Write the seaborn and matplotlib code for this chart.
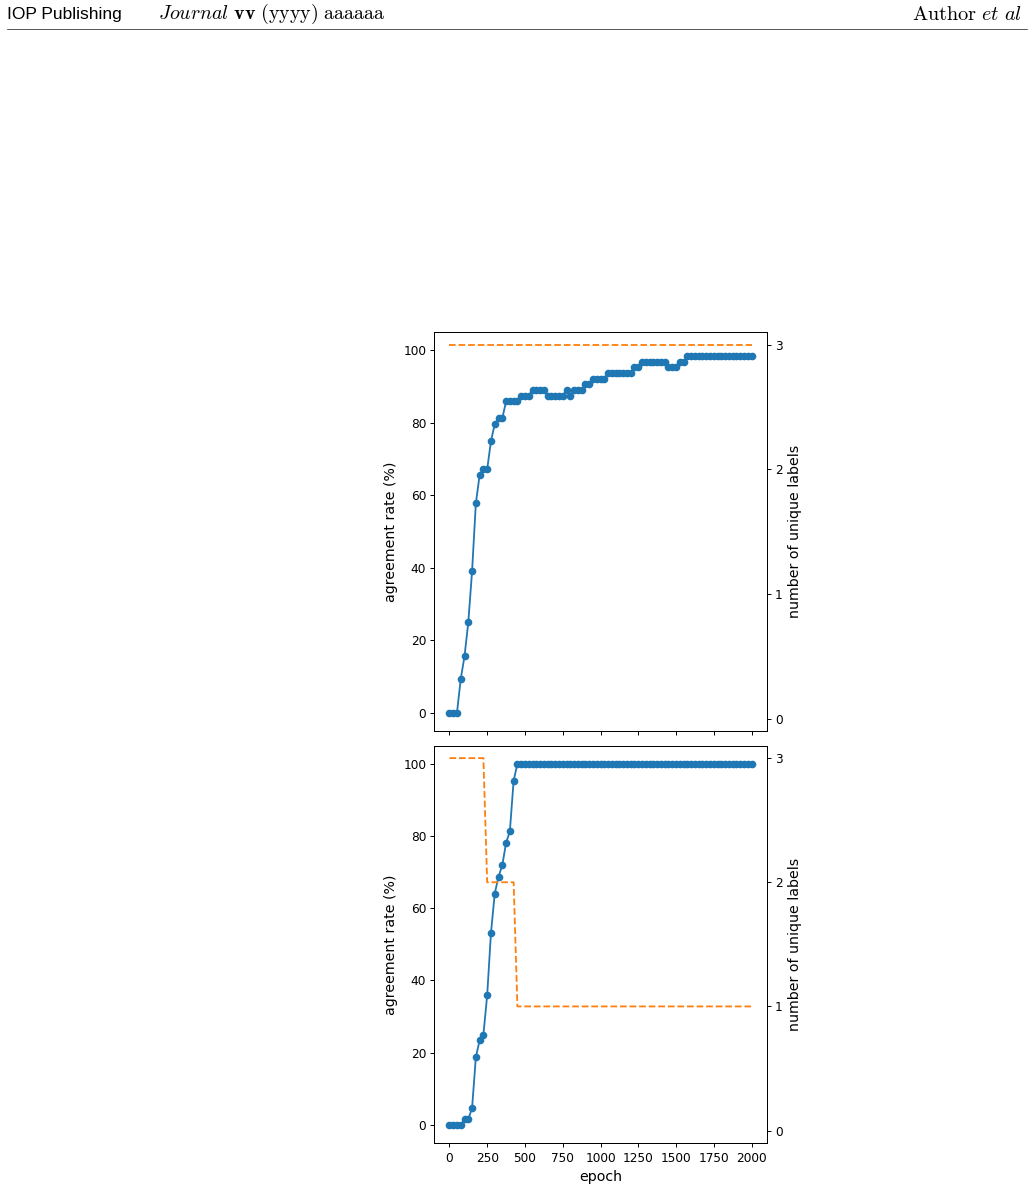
import numpy as np
import pandas as pd
import matplotlib
matplotlib.use("Agg")
import matplotlib.pyplot as plt
import seaborn as sns

# ---------------- data ----------------
epochs = list(range(0, 2001, 25))

agree_top = [
    0, 0, 0, 9.375, 15.625, 25, 39.0625, 57.8125, 65.625, 67.1875,
    67.1875, 75, 79.6875, 81.25, 81.25, 85.9375, 85.9375, 85.9375, 85.9375, 87.5,
    87.5, 87.5, 89.0625, 89.0625, 89.0625, 89.0625, 87.5, 87.5, 87.5, 87.5,
    87.5, 89.0625, 87.5, 89.0625, 89.0625, 89.0625, 90.625, 90.625, 92.1875, 92.1875,
    92.1875, 92.1875, 93.75, 93.75, 93.75, 93.75, 93.75, 93.75, 93.75, 95.3125,
    95.3125, 96.875, 96.875, 96.875, 96.875, 96.875, 96.875, 96.875, 95.3125, 95.3125,
    95.3125, 96.875, 96.875, 98.4375, 98.4375, 98.4375, 98.4375, 98.4375, 98.4375, 98.4375,
    98.4375, 98.4375, 98.4375, 98.4375, 98.4375, 98.4375, 98.4375, 98.4375, 98.4375, 98.4375,
    98.4375,
]
labels_top = [3] * 81

agree_bot = [
    0, 0, 0, 0, 1.5625, 1.5625, 4.6875, 18.75, 23.4375, 25,
    35.9375, 53.125, 64.0625, 68.75, 71.875, 78.125, 81.25, 95.3125,
] + [100] * 63
labels_bot = [3] * 10 + [2] * 8 + [1] * 63

# ---------------- style ----------------
sns.set_style("ticks")
plt.rcParams.update({
    "font.family": ["DejaVu Sans"],
    "text.color": "black",
    "axes.labelcolor": "black",
    "xtick.color": "black",
    "ytick.color": "black",
    "axes.edgecolor": "black",
    "axes.linewidth": 0.7,
    "xtick.major.width": 0.7,
    "ytick.major.width": 0.7,
    "xtick.major.size": 3.2,
    "ytick.major.size": 3.2,
    "xtick.major.pad": 3.0,
    "ytick.major.pad": 2.6,
    "xtick.labelsize": 8.7,
    "ytick.labelsize": 8.7,
    "axes.labelsize": 10.2,
    "xtick.direction": "out",
    "ytick.direction": "out",
})

BLUE = "#1f77b4"
ORANGE = "#ff7f0e"

fig = plt.figure(figsize=(10.34, 11.87), dpi=100)

# page header
fig.text(7 / 1034, 1 - 14 / 1187, "IOP Publishing", fontsize=12.5,
         family=["Liberation Sans", "DejaVu Sans"], va="center", ha="left")
fig.text(158 / 1034, 1 - 14 / 1187,
         r"$\mathit{Journal}\ \mathbf{vv}\ \mathrm{(yyyy)\ aaaaaa}$",
         fontsize=14.4, math_fontfamily="cm", va="center", ha="left")
fig.text(1022 / 1034, 1 - 14 / 1187, r"$\mathrm{Author}\ \mathit{et\ al}$",
         fontsize=14.6, math_fontfamily="cm", va="center", ha="right")
fig.add_artist(plt.Line2D([7 / 1034, 1027 / 1034], [1 - 28.5 / 1187, 1 - 28.5 / 1187],
                          transform=fig.transFigure, color="#555555", lw=0.7))

left = 434.3 / 1034
width = (766.7 - 434.3) / 1034
ax_top = fig.add_axes([left, 1 - 731 / 1187, width, (731 - 332.3) / 1187])
ax_bot = fig.add_axes([left, 1 - 1143 / 1187, width, (1143 - 745.7) / 1187], sharex=ax_top)


def draw(ax, agree, labels, show_x):
    df = pd.DataFrame({"epoch": epochs, "agree": agree, "labels": labels})
    sns.lineplot(data=df, x="epoch", y="agree", ax=ax, color=BLUE, marker="o",
                 markersize=5.5, markeredgewidth=0, markeredgecolor=BLUE, lw=1.3)
    ax.set_ylabel("agreement rate (%)")
    ax.set_ylim(-5, 105)
    ax.set_yticks([0, 20, 40, 60, 80, 100])
    ax2 = ax.twinx()
    sns.lineplot(data=df, x="epoch", y="labels", ax=ax2, color=ORANGE,
                 linestyle="--", lw=1.3)
    ax2.set_ylim(-0.1, 3.1)
    ax2.set_yticks([0, 1, 2, 3])
    ax2.set_ylabel("number of unique labels")
    for a in (ax, ax2):
        for s in a.spines.values():
            s.set_visible(True)
            s.set_linewidth(0.7)
            s.set_color("black")
    if show_x:
        ax.set_xlabel("epoch")
    else:
        ax.set_xlabel("")
        ax.tick_params(labelbottom=False)
    ax2.set_xlabel("")


draw(ax_top, agree_top, labels_top, False)
draw(ax_bot, agree_bot, labels_bot, True)
ax_bot.set_xticks([0, 250, 500, 750, 1000, 1250, 1500, 1750, 2000])
ax_bot.set_xlim(-100, 2100)

fig.savefig("out.png", dpi=100)
